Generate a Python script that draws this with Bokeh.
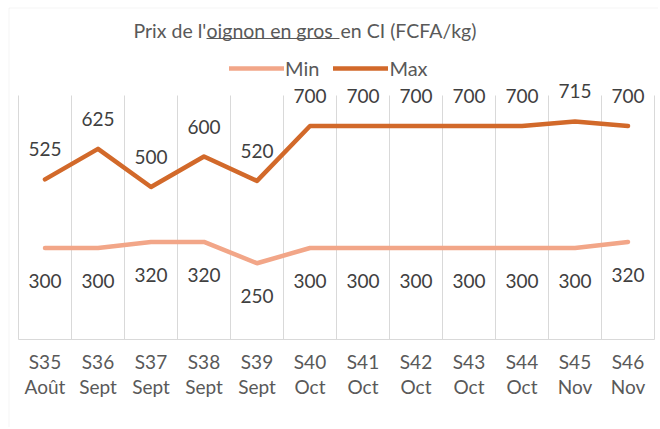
from bokeh.plotting import figure
from bokeh.models import (Range1d, FixedTicker, Legend, LegendItem, Label,
                          BoxAnnotation, ColumnDataSource)
from bokeh.core.properties import value
from bokeh.embed import file_html
from bokeh.resources import INLINE

# ---- data ----
weeks = ["S35", "S36", "S37", "S38", "S39", "S40", "S41", "S42", "S43", "S44", "S45", "S46"]
months = ["Août", "Sept", "Sept", "Sept", "Sept", "Oct", "Oct", "Oct", "Oct", "Oct", "Nov", "Nov"]
min_vals = [300, 300, 320, 320, 250, 300, 300, 300, 300, 300, 300, 320]
max_vals = [525, 625, 500, 600, 520, 700, 700, 700, 700, 700, 715, 700]
title_parts = ["Prix de l'", "oignon en gros ", "en CI (FCFA/kg)"]
y_max_axis = 800

FONT = "Lato"
MIN_C = "#F2A688"
MAX_C = "#D2692A"
GRID_C = "#D9D9D9"

n = len(weeks)
xs = [i + 0.5 for i in range(n)]
src = ColumnDataSource(dict(
    x=xs, mn=min_vals, mx=max_vals,
    mn_t=[str(v) for v in min_vals], mx_t=[str(v) for v in max_vals],
))

# layout geometry (pixels, figure coordinates)
W, H = 658, 427
PLOT_L, PLOT_R = 18, 654     # category area
PLOT_TOP, PLOT_BOT = 95, 339  # value area (0..800)
pxu = (PLOT_R - PLOT_L) / n
pyu = (PLOT_BOT - PLOT_TOP) / y_max_axis

p = figure(width=W, height=H, output_backend="svg", toolbar_location=None,
           x_range=Range1d(-PLOT_L / pxu, n + (W - PLOT_R) / pxu),
           y_range=Range1d(-(H - PLOT_BOT) / pyu, y_max_axis + PLOT_TOP / pyu),
           min_border_left=0, min_border_right=0, min_border_top=0,
           min_border_bottom=0)
p.outline_line_color = None
p.background_fill_color = "white"
p.border_fill_color = "white"

p.yaxis.visible = False
p.ygrid.grid_line_color = None
p.xgrid.ticker = FixedTicker(ticks=list(range(n + 1)))
p.xgrid.grid_line_color = GRID_C
p.xgrid.grid_line_width = 1
p.xgrid.cross_bounds = (0, y_max_axis)

ax = p.xaxis[0]
ax.fixed_location = 0
ax.bounds = (0, n)
ax.ticker = FixedTicker(ticks=xs)
ax.major_label_overrides = {x: f"{w}\n{m}" for x, w, m in zip(xs, weeks, months)}
ax.axis_line_color = GRID_C
ax.major_tick_line_color = None
ax.minor_tick_line_color = None
ax.major_label_text_font = FONT
ax.major_label_text_font_size = "19px"
ax.major_label_text_color = "#595959"
ax.major_label_standoff = 4
ax.major_label_text_line_height = 1.1

rmin = p.line("x", "mn", source=src, line_color=MIN_C, line_width=4.5,
              line_cap="round", line_join="round")
rmax = p.line("x", "mx", source=src, line_color=MAX_C, line_width=4.5,
              line_cap="round", line_join="round")

p.text("x", "mx", text="mx_t", source=src, text_font=value(FONT),
       text_font_size="19px", text_color="#404040", text_align="center",
       text_baseline="middle", y_offset=-30)
p.text("x", "mn", text="mn_t", source=src, text_font=value(FONT),
       text_font_size="19px", text_color="#404040", text_align="center",
       text_baseline="middle", y_offset=33)

legend = Legend(items=[LegendItem(label="Min", renderers=[rmin]),
                       LegendItem(label="Max", renderers=[rmax])],
                orientation="horizontal", location=(229, 347),
                glyph_width=55, glyph_height=20, label_height=20,
                label_standoff=1, spacing=14, padding=0, margin=0,
                border_line_color=None, background_fill_alpha=0,
                label_text_font=FONT, label_text_font_size="20px",
                label_text_color="#595959")
p.add_layout(legend, "center")

# title (frame-relative screen units, y measured up from the bottom edge)
title_x = [133, 206, 340]
for t, tx in zip(title_parts, title_x):
    p.add_layout(Label(x=tx, y=397, x_units="screen", y_units="screen", text=t,
                       text_font=FONT, text_font_size="19.5px", text_color="#595959",
                       text_align="left", text_baseline="middle"))
p.add_layout(BoxAnnotation(left=206, right=339, bottom=388.5, top=389.5,
                           left_units="screen", right_units="screen",
                           bottom_units="screen", top_units="screen",
                           fill_color="#595959", fill_alpha=1, line_color=None))
# chart area border (left and top edges)
p.add_layout(BoxAnnotation(left=8.5, right=W + 20, bottom=-20, top=419.5,
                           left_units="screen", right_units="screen",
                           bottom_units="screen", top_units="screen",
                           fill_alpha=0, line_color=GRID_C, line_width=1))

open("out.html", "w").write(file_html(p, INLINE))
